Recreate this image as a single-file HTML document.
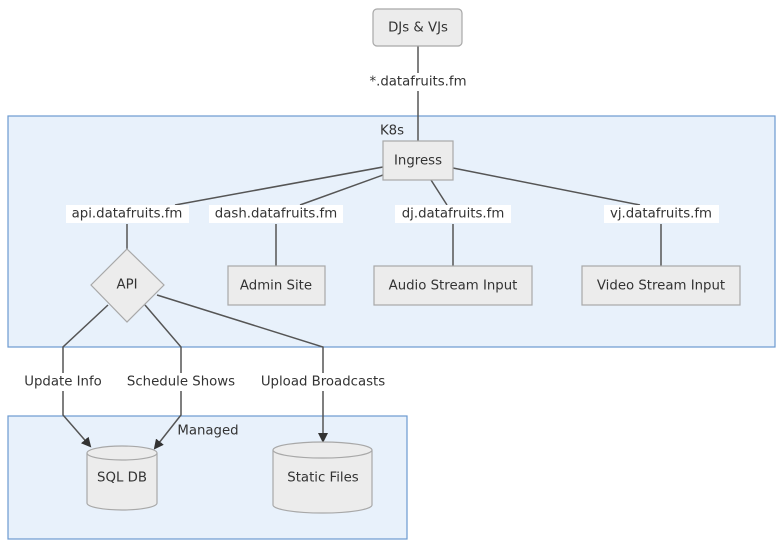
<!DOCTYPE html>
<html><head><style>
body{margin:0;background:#fff;}
svg{display:block;font-family:"DejaVu Sans","Liberation Sans",sans-serif;}
text{font-size:13.3px;fill:#333;text-anchor:middle;dominant-baseline:central;}
.n{fill:#ececec;stroke:#a8a8a8;stroke-width:1.2;}
.e{fill:none;stroke:#555;stroke-width:1.5;}
.lb{fill:#fff;}
</style></head><body>
<svg width="784" height="547" viewBox="0 0 784 547">
<defs><marker id="a" markerWidth="10" markerHeight="10" refX="8" refY="5" orient="auto" markerUnits="userSpaceOnUse"><path d="M0,0 L10,5 L0,10 z" fill="#333"/></marker></defs>
<rect x="8" y="116" width="767" height="231" fill="#e8f1fb" stroke="#6c9ad0" stroke-width="1.2"/>
<rect x="8" y="416" width="399" height="123" fill="#e8f1fb" stroke="#6c9ad0" stroke-width="1.2"/>
<text x="392" y="131">K8s</text>
<text x="208" y="431">Managed</text>
<path class="e" d="M418,46 V141"/>
<path class="e" d="M383,167 L175,205"/>
<path class="e" d="M383,175 L300,205"/>
<path class="e" d="M431,180 L447,205"/>
<path class="e" d="M453,168 L640,205"/>
<path class="e" d="M127,224 V249"/>
<path class="e" d="M276,224 V266"/>
<path class="e" d="M453,224 V266"/>
<path class="e" d="M661,224 V266"/>
<path class="e" d="M108,305 L63,347 V415 L90,446" marker-end="url(#a)"/>
<path class="e" d="M145,305 L181,347 V415 L155,448" marker-end="url(#a)"/>
<path class="e" d="M157,295 L323,347 V441" marker-end="url(#a)"/>
<rect class="lb" x="363" y="73" width="110" height="18"/><text x="418" y="82">*.datafruits.fm</text>
<rect class="lb" x="66" y="205" width="123" height="18"/><text x="127" y="214">api.datafruits.fm</text>
<rect class="lb" x="209" y="205" width="134" height="18"/><text x="276" y="214">dash.datafruits.fm</text>
<rect class="lb" x="395" y="205" width="116" height="18"/><text x="453" y="214">dj.datafruits.fm</text>
<rect class="lb" x="604" y="205" width="115" height="18"/><text x="661" y="214">vj.datafruits.fm</text>
<rect class="lb" x="21" y="373" width="84" height="18"/><text x="63" y="382">Update Info</text>
<rect class="lb" x="125" y="373" width="113" height="18"/><text x="181" y="382">Schedule Shows</text>
<rect class="lb" x="257" y="373" width="132" height="18"/><text x="323" y="382">Upload Broadcasts</text>
<rect class="n" x="373" y="9" width="89" height="37" rx="4"/><text x="418" y="28">DJs &amp; VJs</text>
<rect class="n" x="383" y="141" width="70" height="39"/><text x="418" y="161">Ingress</text>
<polygon class="n" points="127,249 164,285 127,322 91,285"/><text x="127" y="285">API</text>
<rect class="n" x="228" y="266" width="97" height="39"/><text x="276" y="286">Admin Site</text>
<rect class="n" x="374" y="266" width="158" height="39"/><text x="453" y="286">Audio Stream Input</text>
<rect class="n" x="582" y="266" width="158" height="39"/><text x="661" y="286">Video Stream Input</text>
<path class="n" d="M87,453 A35,7 0 0 1 157,453 V503 A35,7 0 0 1 87,503 Z"/><path class="n" d="M87,453 A35,7 0 0 0 157,453" fill="none"/>
<text x="122" y="478">SQL DB</text>
<path class="n" d="M273,450 A49.5,8 0 0 1 372,450 V505 A49.5,8 0 0 1 273,505 Z"/><path class="n" d="M273,450 A49.5,8 0 0 0 372,450" fill="none"/>
<text x="323" y="478">Static Files</text>
</svg>
</body></html>
